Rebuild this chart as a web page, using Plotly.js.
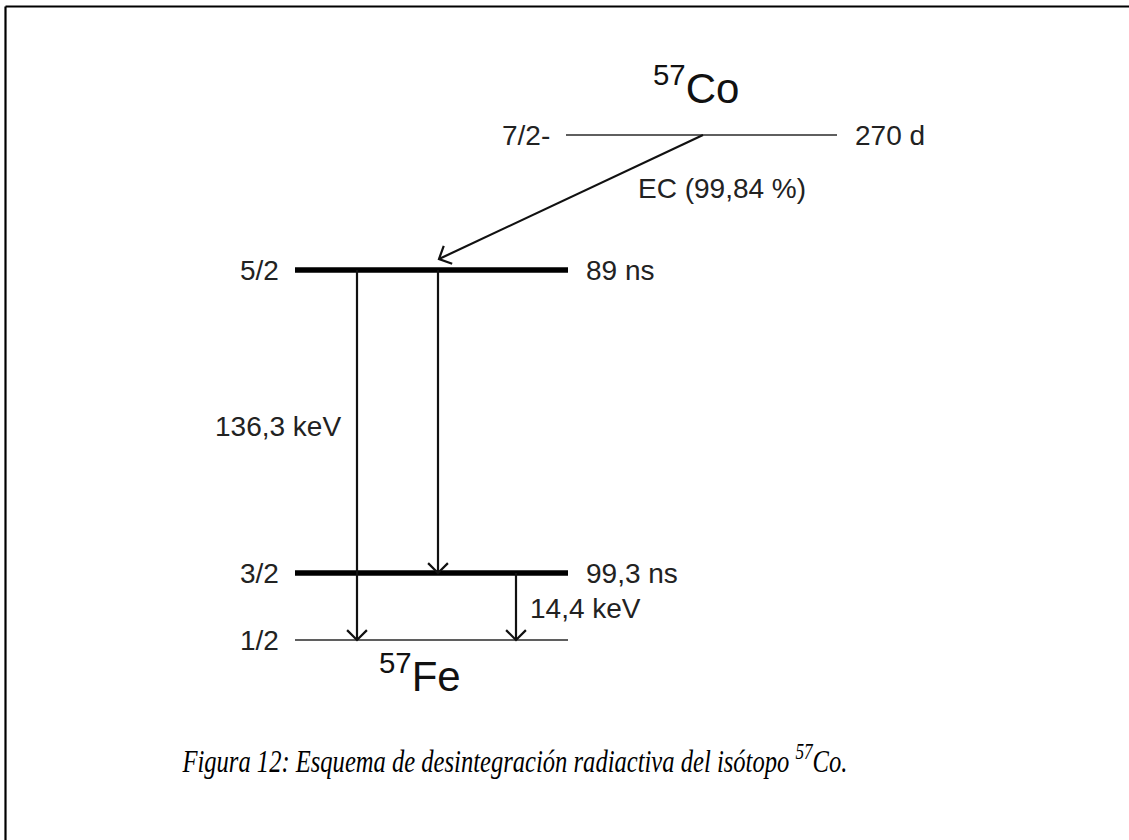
<!DOCTYPE html>
<html>
<head>
<meta charset="utf-8">
<script src="https://cdn.plot.ly/plotly-3.0.1.min.js"></script>
<style>html,body{margin:0;padding:0;background:#fff;}#chart{width:1129px;height:840px;}</style>
</head>
<body>
<div id="chart"></div>
<script>
// ---- Data: 57Co decay scheme ----
const levelSpin     = ['7/2-', '5/2', '3/2', '1/2'];
const levelHalfLife = ['270 d', '89 ns', '99,3 ns', ''];
const levelPos      = [135, 270, 573, 640];      // vertical position in the scheme
const levelStart    = [566, 295, 295, 295];
const levelEnd      = [837, 568, 568, 568];
const levelThick    = [false, true, true, false];

const transFrom  = [0, 1, 1, 2];
const transTo    = [1, 3, 2, 3];
const transXFrom = [703, 357, 438, 516];
const transXTo   = [439, 357, 438, 516];
const transLabel = ['EC (99,84 %)', '136,3 keV', '', '14,4 keV'];
const transLabelX = [722, 343, 0, 528];
const transLabelY = [188, 426, 0, 608];

const nuclides  = ['<sup>57</sup>Co', '<sup>57</sup>Fe'];
const nuclideX  = [696, 420];
const nuclideY  = [85, 673];

const caption = '<i>Figura 12: Esquema de desintegración radiactiva del isótopo <sup>57</sup>Co.</i>';

// ---- Build traces ----
const traces = [];
levelPos.forEach((y, i) => {
  traces.push({
    x: [levelStart[i], levelEnd[i]], y: [y, y], mode: 'lines', type: 'scatter',
    line: {color: levelThick[i] ? '#000' : '#2a2a2a', width: levelThick[i] ? 5.5 : 1.7},
    hoverinfo: 'skip', showlegend: false
  });
});

const endGap = [11, 0, 0, 0];
const wingLen = 14, wingAng = Math.PI / 4;
transFrom.forEach((f, i) => {
  const x0 = transXFrom[i], y0 = levelPos[f];
  const x1 = transXTo[i], y1 = levelPos[transTo[i]] - endGap[i];
  const a = Math.atan2(y1 - y0, x1 - x0);
  const wx1 = x1 - wingLen * Math.cos(a - wingAng), wy1 = y1 - wingLen * Math.sin(a - wingAng);
  const wx2 = x1 - wingLen * Math.cos(a + wingAng), wy2 = y1 - wingLen * Math.sin(a + wingAng);
  traces.push({
    x: [x0, x1, null, wx1, x1, wx2], y: [y0, y1, null, wy1, y1, wy2],
    mode: 'lines', type: 'scatter', line: {color: '#111', width: 2.2},
    hoverinfo: 'skip', showlegend: false
  });
});

// ---- Annotations ----
const sans = 'Liberation Sans, Arial, sans-serif';
const ann = [];
levelPos.forEach((y, i) => {
  ann.push({x: levelStart[i] - 14, y: y, xref: 'x', yref: 'y', text: levelSpin[i],
    showarrow: false, xanchor: 'right', yanchor: 'middle', font: {family: sans, size: 28, color: '#222'}});
  if (levelHalfLife[i]) ann.push({x: levelEnd[i] + 16, y: y, xref: 'x', yref: 'y', text: levelHalfLife[i],
    showarrow: false, xanchor: 'left', yanchor: 'middle', font: {family: sans, size: 28, color: '#222'}});
});
transLabel.forEach((t, i) => {
  if (!t) return;
  ann.push({x: transLabelX[i], y: transLabelY[i], xref: 'x', yref: 'y', text: t, showarrow: false,
    xanchor: i === 1 ? 'right' : (i === 0 ? 'center' : 'left'), yanchor: 'middle',
    font: {family: sans, size: 28, color: '#222'}});
});
nuclides.forEach((t, i) => {
  ann.push({x: nuclideX[i], y: nuclideY[i], xref: 'x', yref: 'y', text: t, showarrow: false,
    xanchor: 'center', yanchor: 'middle', font: {family: sans, size: 42, color: '#111'}});
});
ann.push({x: 514, y: 759, xref: 'x', yref: 'y', text: caption, showarrow: false,
  xanchor: 'center', yanchor: 'middle', font: {family: 'Liberation Serif, Times New Roman, serif', size: 32, color: '#000'}});

const layout = {
  width: 1129, height: 840,
  margin: {l: 0, r: 0, t: 0, b: 0},
  paper_bgcolor: '#fff', plot_bgcolor: '#fff',
  xaxis: {range: [0, 1129], visible: false, fixedrange: true},
  yaxis: {range: [840, 0], visible: false, fixedrange: true},
  annotations: ann,
  shapes: [
    {type: 'line', xref: 'paper', yref: 'paper', x0: 5.5/1129, x1: 5.5/1129, y0: 1 - 6.5/840, y1: -0.1, line: {color: '#000', width: 2.2}},
    {type: 'line', xref: 'paper', yref: 'paper', x0: 5.5/1129, x1: 1.1, y0: 1 - 6.5/840, y1: 1 - 6.5/840, line: {color: '#000', width: 2.2}}
  ]
};

Plotly.newPlot('chart', traces, layout, {staticPlot: true, displayModeBar: false}).then(function (gd) {
  // the reference caption is set in a condensed italic serif: compress it horizontally
  const texts = gd.querySelectorAll('.annotation-text');
  const cap = texts[texts.length - 1];
  if (cap) {
    cap.setAttribute('textLength', '665');
    cap.setAttribute('lengthAdjust', 'spacingAndGlyphs');
  }
});
</script>
</body>
</html>
